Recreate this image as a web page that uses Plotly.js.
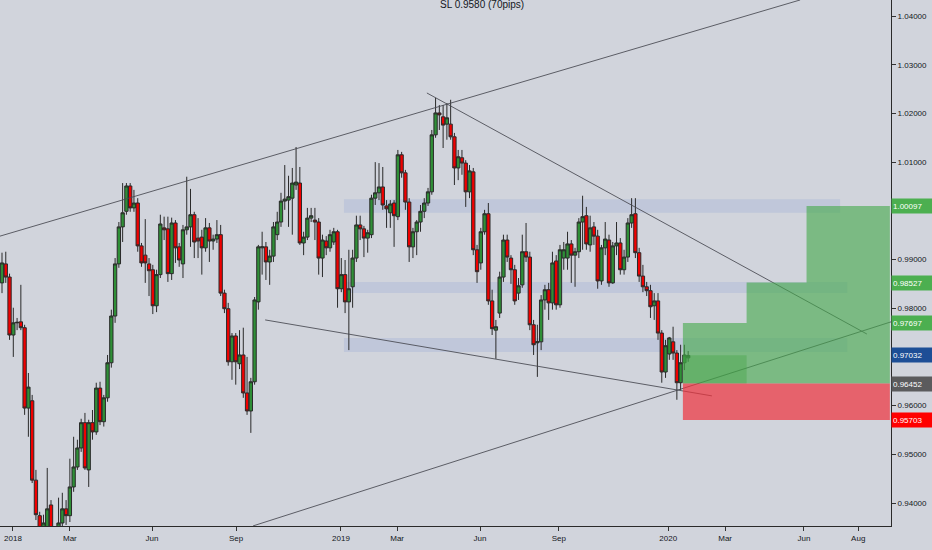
<!DOCTYPE html>
<html>
<head>
<meta charset="utf-8">
<script src="https://cdn.plot.ly/plotly-3.0.1.min.js"></script>
<style>
  html, body { margin: 0; padding: 0; background: #d1d4dc; }
  #chart { width: 932px; height: 550px; }
</style>
</head>
<body>
<div id="chart"></div>
<script>
// USDCHF, 3-day bars, Dec 2017 - Jan 2020
var openP = [
  0.9852, 0.9891, 0.9864, 0.9745, 0.9770, 0.9772, 0.9760, 0.9595, 0.9610, 0.9447,
  0.9374, 0.9304, 0.9345, 0.9396, 0.9324, 0.9314, 0.9359, 0.9388, 0.9374, 0.9433,
  0.9474, 0.9513, 0.9565, 0.9468, 0.9565, 0.9546, 0.9636, 0.9567, 0.9616, 0.9688,
  0.9784, 0.9891, 0.9967, 0.9999, 1.0051, 1.0006, 1.0016, 0.9928, 0.9909, 0.9891,
  0.9879, 0.9805, 0.9869, 0.9965, 0.9963, 0.9871, 0.9975, 0.9926, 0.9891, 0.9961,
  0.9967, 0.9992, 0.9944, 0.9946, 0.9924, 0.9965, 0.9938, 0.9942, 0.9951, 0.9831,
  0.9799, 0.9690, 0.9743, 0.9686, 0.9704, 0.9626, 0.9589, 0.9649, 0.9813, 0.9924,
  0.9926, 0.9895, 0.9907, 0.9951, 0.9977, 1.0020, 1.0022, 1.0026, 1.0053, 1.0057,
  0.9934, 0.9946, 0.9985, 0.9981, 0.9977, 0.9903, 0.9938, 0.9924, 0.9936, 0.9957,
  0.9840, 0.9869, 0.9813, 0.9844, 0.9903, 0.9971, 0.9963, 0.9944, 0.9951, 1.0026,
  1.0037, 1.0049, 1.0010, 0.9996, 1.0016, 0.9988, 1.0115, 1.0078, 1.0018, 0.9926,
  0.9957, 0.9977, 0.9999, 1.0016, 1.0039, 1.0156, 1.0201, 1.0193, 1.0178, 1.0178,
  1.0152, 1.0088, 1.0109, 1.0098, 1.0039, 1.0080, 0.9920, 0.9893, 0.9957, 0.9994,
  0.9815, 0.9755, 0.9790, 0.9864, 0.9940, 0.9903, 0.9879, 0.9831, 0.9848, 0.9916,
  0.9905, 0.9766, 0.9729, 0.9731, 0.9817, 0.9838, 0.9811, 0.9897, 0.9807, 0.9903,
  0.9903, 0.9932, 0.9909, 0.9916, 0.9977, 0.9990, 0.9930, 0.9967, 0.9948, 0.9856,
  0.9924, 0.9940, 0.9852, 0.9928, 0.9934, 0.9879, 0.9905, 0.9975, 0.9994, 0.9914,
  0.9866, 0.9844, 0.9836, 0.9805, 0.9815, 0.9749, 0.9669, 0.9706, 0.9731, 0.9708,
  0.9647, 0.9688, 0.9698
];
var highP = [
  0.9914, 0.9916, 0.9871, 0.9801, 0.9780, 0.9848, 0.9766, 0.9667, 0.9622, 0.9468,
  0.9382, 0.9376, 0.9472, 0.9406, 0.9345, 0.9411, 0.9421, 0.9406, 0.9491, 0.9536,
  0.9530, 0.9573, 0.9585, 0.9571, 0.9591, 0.9647, 0.9649, 0.9622, 0.9704, 0.9797,
  0.9903, 0.9977, 1.0057, 1.0057, 1.0057, 1.0043, 1.0026, 0.9934, 0.9983, 0.9903,
  0.9889, 0.9879, 0.9992, 0.9988, 0.9988, 0.9986, 0.9981, 0.9934, 0.9971, 1.0070,
  1.0045, 0.9998, 0.9985, 0.9961, 0.9985, 0.9975, 0.9951, 0.9981, 0.9971, 0.9838,
  0.9811, 0.9749, 0.9749, 0.9755, 0.9760, 0.9700, 0.9657, 0.9823, 0.9930, 0.9957,
  0.9936, 0.9920, 0.9977, 0.9998, 1.0037, 1.0094, 1.0072, 1.0088, 1.0131, 1.0090,
  0.9957, 1.0006, 1.0006, 1.0006, 0.9985, 0.9951, 0.9948, 0.9961, 0.9965, 0.9961,
  0.9903, 0.9899, 0.9920, 0.9920, 0.9990, 0.9990, 0.9969, 0.9961, 1.0033, 1.0100,
  1.0098, 1.0090, 1.0022, 1.0022, 1.0022, 1.0125, 1.0121, 1.0084, 1.0026, 0.9965,
  0.9981, 1.0012, 1.0026, 1.0047, 1.0166, 1.0232, 1.0217, 1.0217, 1.0221, 1.0228,
  1.0160, 1.0125, 1.0125, 1.0104, 1.0094, 1.0088, 0.9930, 0.9965, 1.0002, 1.0016,
  0.9838, 0.9776, 0.9875, 0.9951, 0.9951, 0.9909, 0.9889, 0.9862, 0.9951, 0.9975,
  0.9916, 0.9776, 0.9766, 0.9827, 0.9848, 0.9852, 0.9916, 0.9909, 0.9930, 0.9936,
  0.9957, 0.9940, 0.9924, 0.9985, 1.0031, 1.0008, 0.9990, 0.9977, 0.9961, 0.9930,
  0.9977, 0.9951, 0.9936, 0.9977, 0.9944, 0.9920, 0.9985, 1.0026, 1.0026, 0.9924,
  0.9889, 0.9854, 0.9848, 0.9831, 0.9831, 0.9755, 0.9735, 0.9741, 0.9762, 0.9714,
  0.9725, 0.9725, 0.9712
];
var lowP = [
  0.9831, 0.9852, 0.9735, 0.9700, 0.9755, 0.9755, 0.9581, 0.9536, 0.9441, 0.9365,
  0.9324, 0.9283, 0.9324, 0.9308, 0.9262, 0.9294, 0.9345, 0.9355, 0.9361, 0.9423,
  0.9468, 0.9505, 0.9468, 0.9433, 0.9530, 0.9540, 0.9560, 0.9557, 0.9608, 0.9678,
  0.9770, 0.9883, 0.9936, 0.9992, 0.9998, 0.9998, 0.9916, 0.9885, 0.9852, 0.9825,
  0.9788, 0.9792, 0.9862, 0.9940, 0.9854, 0.9858, 0.9893, 0.9885, 0.9862, 0.9951,
  0.9926, 0.9903, 0.9903, 0.9869, 0.9916, 0.9895, 0.9920, 0.9934, 0.9825, 0.9790,
  0.9682, 0.9653, 0.9643, 0.9675, 0.9616, 0.9581, 0.9544, 0.9643, 0.9797, 0.9869,
  0.9858, 0.9848, 0.9895, 0.9940, 0.9967, 1.0002, 0.9967, 0.9951, 1.0043, 0.9930,
  0.9909, 0.9940, 0.9977, 0.9940, 0.9869, 0.9864, 0.9909, 0.9916, 0.9930, 0.9801,
  0.9833, 0.9790, 0.9714, 0.9801, 0.9895, 0.9940, 0.9905, 0.9914, 0.9944, 1.0012,
  1.0022, 1.0002, 0.9965, 0.9965, 0.9926, 0.9981, 1.0068, 1.0002, 0.9895, 0.9903,
  0.9909, 0.9957, 0.9985, 1.0010, 1.0033, 1.0150, 1.0166, 1.0129, 1.0146, 1.0146,
  1.0053, 1.0063, 1.0074, 1.0008, 1.0026, 0.9909, 0.9852, 0.9879, 0.9951, 0.9807,
  0.9745, 0.9696, 0.9780, 0.9854, 0.9895, 0.9850, 0.9807, 0.9817, 0.9842, 0.9895,
  0.9755, 0.9704, 0.9659, 0.9714, 0.9797, 0.9776, 0.9797, 0.9797, 0.9801, 0.9879,
  0.9879, 0.9852, 0.9844, 0.9903, 0.9920, 0.9920, 0.9916, 0.9930, 0.9840, 0.9848,
  0.9909, 0.9844, 0.9850, 0.9909, 0.9869, 0.9869, 0.9895, 0.9965, 0.9903, 0.9854,
  0.9833, 0.9825, 0.9780, 0.9776, 0.9735, 0.9647, 0.9657, 0.9694, 0.9694, 0.9612,
  0.9632, 0.9673, 0.9690
];
var closeP = [
  0.9893, 0.9864, 0.9745, 0.9770, 0.9771, 0.9760, 0.9595, 0.9638, 0.9447, 0.9376,
  0.9335, 0.9359, 0.9388, 0.9324, 0.9290, 0.9359, 0.9388, 0.9374, 0.9433, 0.9474,
  0.9513, 0.9565, 0.9472, 0.9565, 0.9546, 0.9636, 0.9567, 0.9616, 0.9688, 0.9784,
  0.9891, 0.9967, 0.9996, 1.0051, 1.0006, 1.0016, 0.9928, 0.9893, 0.9893, 0.9877,
  0.9805, 0.9869, 0.9973, 0.9961, 0.9871, 0.9975, 0.9924, 0.9899, 0.9961, 0.9967,
  0.9992, 0.9936, 0.9938, 0.9924, 0.9965, 0.9938, 0.9942, 0.9951, 0.9831, 0.9799,
  0.9690, 0.9743, 0.9690, 0.9704, 0.9626, 0.9589, 0.9649, 0.9817, 0.9926, 0.9926,
  0.9895, 0.9907, 0.9967, 0.9977, 1.0020, 1.0024, 1.0029, 1.0057, 1.0059, 0.9934,
  0.9946, 0.9985, 0.9990, 0.9977, 0.9903, 0.9940, 0.9924, 0.9951, 0.9957, 0.9840,
  0.9869, 0.9813, 0.9840, 0.9903, 0.9971, 0.9963, 0.9944, 0.9955, 1.0026, 1.0037,
  1.0049, 1.0012, 1.0004, 1.0014, 0.9990, 1.0115, 1.0078, 1.0018, 0.9926, 0.9957,
  0.9977, 0.9999, 1.0016, 1.0039, 1.0156, 1.0201, 1.0197, 1.0176, 1.0191, 1.0152,
  1.0088, 1.0111, 1.0098, 1.0039, 1.0082, 0.9920, 0.9875, 0.9957, 0.9994, 0.9815,
  0.9758, 0.9762, 0.9864, 0.9940, 0.9905, 0.9879, 0.9815, 0.9846, 0.9916, 0.9905,
  0.9766, 0.9725, 0.9731, 0.9817, 0.9838, 0.9811, 0.9893, 0.9807, 0.9920, 0.9920,
  0.9932, 0.9909, 0.9916, 0.9977, 0.9988, 0.9932, 0.9965, 0.9948, 0.9856, 0.9924,
  0.9942, 0.9852, 0.9928, 0.9934, 0.9879, 0.9905, 0.9975, 0.9992, 0.9914, 0.9866,
  0.9844, 0.9836, 0.9803, 0.9815, 0.9749, 0.9669, 0.9723, 0.9739, 0.9708, 0.9647,
  0.9688, 0.9704, 0.9703
];

// time axis labels (bar-index positions, TradingView style axis)
var tickPos = [2.9, 18.0, 39.8, 62.1, 89.9, 104.8, 126.8, 147.7, 176.7, 191.8, 212.7, 227.1];
var tickText = ['2018', 'Mar', 'Jun', 'Sep', '2019', 'Mar', 'Jun', 'Sep', '2020', 'Mar', 'Jun', 'Aug'];
// price scale; 0.97 and 1.00 sit under the price tags
var priceTicks = [0.94, 0.95, 0.96, 0.97, 0.98, 0.99, 1.00, 1.01, 1.02, 1.03, 1.04];
var priceText = ['0.94000', '0.95000', '0.96000', '', '0.98000', '0.99000', '', '1.01000', '1.02000', '1.03000', '1.04000'];

// drawn trend lines [start bar, end bar], [start price, end price]
var upperLineX = [-0.53, 211.7], upperLineY = [0.9948, 1.0433];
var risingLineX = [66.6, 235.8], risingLineY = [0.9353, 0.9772];
var fallingLineX = [112.7, 229.4], fallingLineY = [1.0242, 0.9747];
var supportLineX = [69.8, 188.3], supportLineY = [0.9776, 0.9620];

// horizontal zones
var zoneStart = 90.7;
var zoneEnd = [222.3, 224.2, 224.2];
var zoneTop = [1.0024, 0.9854, 0.9739];
var zoneBottom = [0.9996, 0.9831, 0.9710];

// long position tool
var posStart = 180.6;
var stepEnd = [197.5, 213.4, 235.5];
var targets = [0.97697, 0.98527, 1.00097];
var entry = 0.96452, stopLoss = 0.95703, lastPrice = 0.97032;

var bars = openP.map(function (v, i) { return i; });

var candles = {
  type: 'candlestick',
  x: bars, open: openP, high: highP, low: lowP, close: closeP,
  increasing: { line: { color: '#2a2a2a', width: 1 }, fillcolor: '#2f8f37' },
  decreasing: { line: { color: '#2a2a2a', width: 1 }, fillcolor: '#f00000' },
  whiskerwidth: 0,
  hoverinfo: 'skip'
};

function trend(xs, ys) {
  return { type: 'scatter', mode: 'lines', x: xs, y: ys,
           line: { color: 'rgba(70,72,80,0.85)', width: 1 }, hoverinfo: 'skip' };
}

var data = [candles,
  trend(upperLineX, upperLineY),
  trend(risingLineX, risingLineY),
  trend(fallingLineX, fallingLineY),
  trend(supportLineX, supportLineY)];

var shapes = [];
zoneTop.forEach(function (t, k) {
  shapes.push({ type: 'rect', xref: 'x', yref: 'y', layer: 'below',
    x0: zoneStart, x1: zoneEnd[k], y0: zoneBottom[k], y1: t,
    fillcolor: 'rgba(170,184,214,0.45)', line: { width: 0 } });
});
var stepPath = 'M' + posStart + ',' + entry + ' L' + posStart + ',' + targets[0] +
  ' L' + stepEnd[0] + ',' + targets[0] + ' L' + stepEnd[0] + ',' + targets[1] +
  ' L' + stepEnd[1] + ',' + targets[1] + ' L' + stepEnd[1] + ',' + targets[2] +
  ' L' + stepEnd[2] + ',' + targets[2] + ' L' + stepEnd[2] + ',' + entry + ' Z';
shapes.push({ type: 'path', xref: 'x', yref: 'y', layer: 'above', path: stepPath,
  fillcolor: 'rgba(70,170,76,0.62)', line: { width: 0 } });
shapes.push({ type: 'rect', xref: 'x', yref: 'y', layer: 'above',
  x0: posStart, x1: stepEnd[0], y0: entry, y1: lastPrice,
  fillcolor: 'rgba(60,160,60,0.35)', line: { width: 0 } });
shapes.push({ type: 'rect', xref: 'x', yref: 'y', layer: 'above',
  x0: posStart, x1: stepEnd[2], y0: stopLoss, y1: entry,
  fillcolor: 'rgba(240,50,60,0.7)', line: { width: 0 } });

var tagLevels = [targets[2], targets[1], targets[0], lastPrice, entry, stopLoss];
var tagColors = ['#4caf50', '#4caf50', '#4caf50', '#1d4e96', '#5b5b5d', '#ff0000'];
var annotations = tagLevels.map(function (v, k) {
  return { xref: 'paper', yref: 'y', x: 1, y: v, xanchor: 'left', yanchor: 'middle',
    text: v.toFixed(5), showarrow: false, bgcolor: tagColors[k], width: 40, height: 12,
    align: 'left', borderpad: 1,
    font: { family: 'Liberation Sans, Arial, sans-serif', size: 8, color: '#ffffff' } };
});
annotations.push({ xref: 'paper', yref: 'paper', x: 482 / 891, y: 1, yanchor: 'middle',
  yshift: -4, text: 'SL 0.9580 (70pips)', showarrow: false,
  font: { family: 'Liberation Sans, Arial, sans-serif', size: 10, color: '#131722' } });

var layout = {
  width: 932, height: 550,
  margin: { l: 0, r: 41, t: 0, b: 24, pad: 0 },
  paper_bgcolor: '#d1d4dc', plot_bgcolor: '#d1d4dc',
  showlegend: false, hovermode: false, boxgap: 0.12, boxgroupgap: 0,
  font: { family: 'Liberation Sans, Arial, sans-serif', size: 8, color: '#131722' },
  xaxis: {
    range: [-0.53, 235.8], rangeslider: { visible: false },
    tickmode: 'array', tickvals: tickPos, ticktext: tickText,
    ticks: 'outside', ticklen: 4, tickcolor: '#333', tickwidth: 1,
    showline: true, linecolor: '#2a2a2a', linewidth: 1,
    showgrid: false, zeroline: false, fixedrange: true
  },
  yaxis: {
    side: 'right', range: [0.93528, 1.04329],
    tickmode: 'array', tickvals: priceTicks, ticktext: priceText,
    ticks: 'outside', ticklen: 4, tickcolor: '#333', tickwidth: 1,
    showline: true, linecolor: '#2a2a2a', linewidth: 1,
    showgrid: false, zeroline: false, fixedrange: true
  },
  shapes: shapes,
  annotations: annotations
};

Plotly.newPlot('chart', data, layout, { displayModeBar: false, staticPlot: true });
</script>
</body>
</html>
